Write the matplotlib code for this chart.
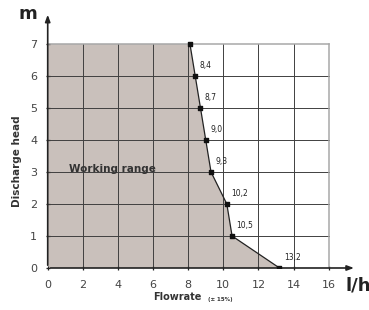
import matplotlib
matplotlib.use("Agg")
import matplotlib.pyplot as plt
import numpy as np

# Data
head = [7, 6, 5, 4, 3, 2, 1, 0]
flow = [8.1, 8.4, 8.7, 9.0, 9.3, 10.2, 10.5, 13.2]
point_labels = ["", "8,4", "8,7", "9,0", "9,3", "10,2", "10,5", "13,2"]
x_ticks = [0, 2, 4, 6, 8, 10, 12, 14, 16]
y_ticks = [0, 1, 2, 3, 4, 5, 6, 7]

fill_color = "#c9c0bb"
grid_dark = "#404040"
grid_light = "#a8a8a8"
text_color = "#333333"

fig = plt.figure(figsize=(3.69, 3.10), dpi=100)
ax = fig.add_axes([0.1293, 0.1355, 0.8375, 0.826])
ax.set_xlim(0, 17.6)
ax.set_ylim(0, 8)
for s in ax.spines.values():
    s.set_visible(False)

# shaded working range
poly_x = [0] + flow + [0]
poly_y = [7] + head + [0]
ax.fill(poly_x, poly_y, color=fill_color, zorder=1, lw=0)

xmax = 16
ymax = 7
# grid
for x in x_ticks[1:-1]:
    ax.plot([x, x], [0, ymax], color=grid_dark, lw=0.7, zorder=2)
for y in y_ticks[1:-1]:
    ax.plot([0, xmax], [y, y], color=grid_dark, lw=0.7, zorder=2)
ax.plot([0, xmax], [ymax, ymax], color=grid_light, lw=1.1, zorder=2)
ax.plot([xmax, xmax], [0, ymax], color=grid_light, lw=1.1, zorder=2)

# axes with arrows
ax.annotate("", xy=(17.6, 0), xytext=(0, 0),
            arrowprops=dict(arrowstyle="-|>,head_length=0.4,head_width=0.15",
                            color="#222222", lw=1.2), zorder=5)
ax.annotate("", xy=(0, 8), xytext=(0, 0),
            arrowprops=dict(arrowstyle="-|>,head_length=0.4,head_width=0.15",
                            color="#222222", lw=1.2), zorder=5)

# curve
ax.plot(flow, head, color="#222222", lw=0.9, zorder=4)
ax.scatter(flow, head, marker="s", s=10, color="#111111", zorder=6)
for fx, hy, lab in zip(flow, head, point_labels):
    if lab:
        ax.text(fx + 0.25, hy + 0.2, lab, fontsize=5.5, color="#222222",
                ha="left", va="bottom", zorder=7)

# ticks
ax.set_xticks(x_ticks)
ax.set_yticks(y_ticks)
ax.set_xticklabels([str(v) for v in x_ticks], fontsize=8, color="#444444")
ax.set_yticklabels([str(v) for v in y_ticks], fontsize=8, color="#444444")
ax.tick_params(axis="both", length=3, width=0.9, color="#222222", direction="inout")
ax.tick_params(axis="x", pad=7)
ax.tick_params(axis="y", pad=6)

ax.text(1.2, 3.1, "Working range", fontsize=7.5, fontweight="bold",
        color="#333333", ha="left", va="center", zorder=7)

fig.text(0.045, 0.48, "Discharge head", rotation=90, fontsize=7.5, fontweight="bold",
         color="#333333", ha="center", va="center")
fig.text(0.415, 0.025, "Flowrate", fontsize=7, fontweight="bold",
         color="#333333", ha="left", va="bottom")
fig.text(0.565, 0.027, "(± 15%)", fontsize=4, fontweight="bold",
         color="#333333", ha="left", va="bottom")
fig.text(0.05, 0.955, "m", fontsize=13, fontweight="bold", color="#222222",
         ha="left", va="center")
fig.text(0.935, 0.08, "l/h", fontsize=13, fontweight="bold", color="#222222",
         ha="left", va="center")

fig.savefig("out.png", dpi=100)
